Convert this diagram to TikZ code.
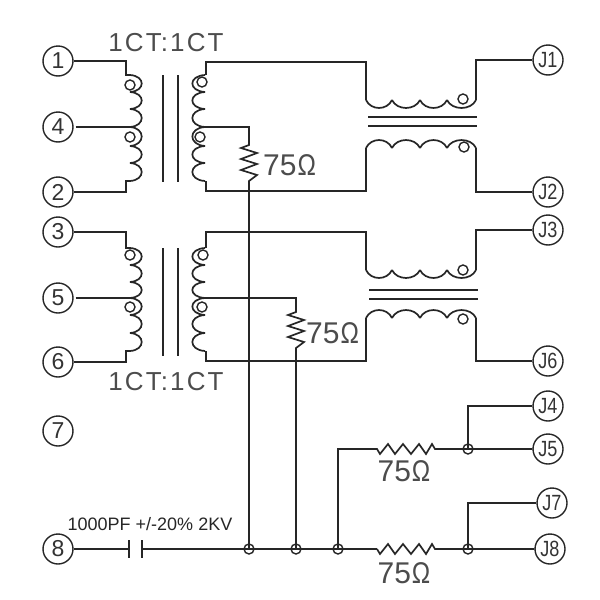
\documentclass[tikz,border=0pt]{standalone}
\usepackage{fontspec}
\setmainfont{Liberation Sans}
\newfontfamily\spacedfont[LetterSpace=8]{Liberation Sans}
\newcommand{\vcoil}[3]{\foreach \a/\b in {#3}{\draw[wire] (#1,\a) .. controls (#1+#2*1.3,\a+1) and (#1+#2*1.3,\b-1) .. (#1,\b);}}
\newcommand{\hcoil}[3]{\foreach \a/\b in {#3}{\draw[wire] (\a,#1) .. controls (\a+5,#1+#2*1.33) and (\b-5,#1+#2*1.33) .. (\b,#1);}}
\tikzset{
  wire/.style={line width=1.7pt,draw=black!85},
  corethick/.style={line width=2pt,draw=black!85},
  pin/.style={circle,draw=black!85,line width=1.4pt,minimum size=30pt,inner sep=0pt,font=\fontsize{23}{23}\selectfont,text=black!80},
  jpin/.style={pin,font=\fontsize{22}{22}\selectfont},
  dot/.style={circle,draw=black!85,line width=1.4pt,minimum size=10pt,inner sep=0pt},
  lbl/.style={inner sep=0pt,text=black!70},
  ohm/.style={lbl,font=\fontsize{30}{30}\selectfont,anchor=west},
  ratio/.style={lbl,font=\fontsize{26}{26}\selectfont\spacedfont}
}
\newcommand{\narrowohm}{75\kern1pt\scalebox{0.82}[1]{Ω}}
\begin{document}
\begin{tikzpicture}[x=1pt,y=-1pt]
\useasboundingbox (0,0) rectangle (600,600);
% pins
\node[pin] (p1) at (58,61) {1};
\node[pin] (p4) at (58,127) {4};
\node[pin] (p2) at (58,192) {2};
\node[pin] (p3) at (58,232) {3};
\node[pin] (p5) at (58,298) {5};
\node[pin] (p6) at (58,362) {6};
\node[pin] (p7) at (58,431) {7};
\node[pin] (p8) at (58,549) {8};
\node[jpin] (j1) at (548,60) {\scalebox{0.82}[1]{J1}};
\node[jpin] (j2) at (548,192) {\scalebox{0.82}[1]{J2}};
\node[jpin] (j3) at (548,230) {\scalebox{0.82}[1]{J3}};
\node[jpin] (j6) at (548,361) {\scalebox{0.82}[1]{J6}};
\node[jpin] (j4) at (548,406) {\scalebox{0.82}[1]{J4}};
\node[jpin] (j5) at (548,449) {\scalebox{0.82}[1]{J5}};
\node[jpin] (j7) at (552,503) {\scalebox{0.82}[1]{J7}};
\node[jpin] (j8) at (550,549) {\scalebox{0.82}[1]{J8}};
% labels
\node[ratio] (r1) at (166,43) {1CT:1CT};
\node[ratio] (r2) at (166,382) {1CT:1CT};
\node[ohm] (o1) at (263,165) {\narrowohm};
\node[ohm] (o2) at (306,333) {\narrowohm};
\node[ohm,anchor=center] (o3) at (404,471) {\narrowohm};
\node[ohm,anchor=center] (o4) at (404,573) {\narrowohm};
\node[lbl,font=\fontsize{18}{18}\selectfont,text=black!85] (c) at (150,524) {1000PF +/-20\% 2KV};
% upper left transformer
\coordinate (a1) at (126,75);
\coordinate (a2) at (126,181);
\coordinate (a4) at (130,127);
\draw[wire] (p1.east) -| (a1) -- (130,75);
\draw[wire] (p2.east) -| (a2) -- (130,181);
\draw[wire] (p4.east) ++(2,0) -- (a4);
\vcoil{130}{12}{75/92,92/109,109/127,127/146,146/163,163/181}
\node[dot] (d1) at (130,85) {};
\node[dot] (d2) at (130,137) {};
\draw[wire] (163,75) -- (163,182);
\draw[wire] (178,75) -- (178,182);
\vcoil{205}{-13}{75/92,92/109,109/127,127/146,146/163,163/181}
\node[dot] (d3) at (202,82) {};
\node[dot] (d4) at (200,137) {};
% lower left transformer
\coordinate (b1) at (126,248);
\coordinate (b2) at (126,351);
\coordinate (b4) at (130,298);
\draw[wire] (p3.east) -| (b1) -- (130,248);
\draw[wire] (p6.east) -| (b2) -- (130,351);
\draw[wire] (p5.east) ++(2,0) -- (b4);
\vcoil{130}{12}{248/265,265/282,282/298,298/315,315/333,333/351}
\node[dot] (d5) at (130,255) {};
\node[dot] (d6) at (130,307) {};
\draw[wire] (163,248) -- (163,356);
\draw[wire] (178,248) -- (178,356);
\vcoil{205}{-13}{248/265,265/282,282/298,298/315,315/333,333/351}
\node[dot] (d7) at (203,255) {};
\node[dot] (d8) at (202,307) {};
% upper right transformer
\coordinate (c1) at (206,75);
\coordinate (c2) at (366,100);
\coordinate (c3) at (206,181);
\coordinate (c4) at (366,148);
\coordinate (c5) at (476,100);
\coordinate (c6) at (476,148);
\draw[wire] (c1) |- (366,62) -- (c2);
\draw[wire] (c3) |- (366,191) -- (c4);
\draw[wire] (j1.west) -| (c5);
\draw[wire] (j2.west) -| (c6);
\hcoil{100}{8}{366/392,392/420,420/447,447/476}
\hcoil{148}{-8}{366/392,392/420,420/447,447/476}
\node[dot] (d9) at (463,99) {};
\node[dot] (d10) at (464,147) {};
\draw[corethick] (368,117) -- (477,117);
\draw[wire] (368,126) -- (477,126);
% lower right transformer
\coordinate (e1) at (206,248);
\coordinate (e2) at (366,270);
\coordinate (e3) at (206,351);
\coordinate (e4) at (366,318);
\coordinate (e5) at (476,270);
\coordinate (e6) at (476,318);
\draw[wire] (e1) |- (366,232) -- (e2);
\draw[wire] (e3) |- (366,361) -- (e4);
\draw[wire] (j3.west) -| (e5);
\draw[wire] (j6.west) -| (e6);
\hcoil{270}{8}{366/392,392/420,420/447,447/476}
\hcoil{318}{-8}{366/392,392/420,420/447,447/476}
\node[dot] (d11) at (463,270) {};
\node[dot] (d12) at (463,319) {};
\draw[corethick] (369,290) -- (478,290);
\draw[wire] (369,299) -- (478,299);
% bus dots
\node[dot] (n1) at (249,549) {};
\node[dot] (n2) at (296,549) {};
\node[dot] (n3) at (338,549) {};
\node[dot] (n4) at (468,549) {};
\node[dot] (n5) at (468,449) {};
% capacitor
\coordinate (cp1) at (129,549);
\coordinate (cp2) at (142,549);
\draw[wire] (129,540) -- (129,558);
\draw[wire] (142,540) -- (142,558);
\draw[wire] (p8.east) -- (cp1);
\draw[wire] (cp2) -- (n1.center) -- (n2.center) -- (n3.center) -- (377,549);
% vertical resistors
\draw[wire] (205,127) -| (249,145) -- (241,148) -- (257,153) -- (241,159) -- (257,164) -- (241,170) -- (257,175) -- (249,181) -- (n1.center);
\draw[wire] (205,298) -| (296,312) -- (288,315) -- (304,320) -- (288,326) -- (304,331) -- (288,337) -- (304,342) -- (296,348) -- (n2.center);
% horizontal resistors
\draw[wire] (n3.center) |- (377,449) -- (380,454) -- (388,444) -- (395,454) -- (403,444) -- (411,454) -- (419,444) -- (426,454) -- (432,444) -- (435,449) -- (n5.center) -- (j5.west);
\draw[wire] (377,549) -- (380,554) -- (388,544) -- (395,554) -- (403,544) -- (411,554) -- (419,544) -- (426,554) -- (432,544) -- (435,549) -- (n4.center) -- (j8.west);
\draw[wire] (n5.center) |- (j4.west);
\draw[wire] (n4.center) |- (j7.west);
\end{tikzpicture}
\end{document}
